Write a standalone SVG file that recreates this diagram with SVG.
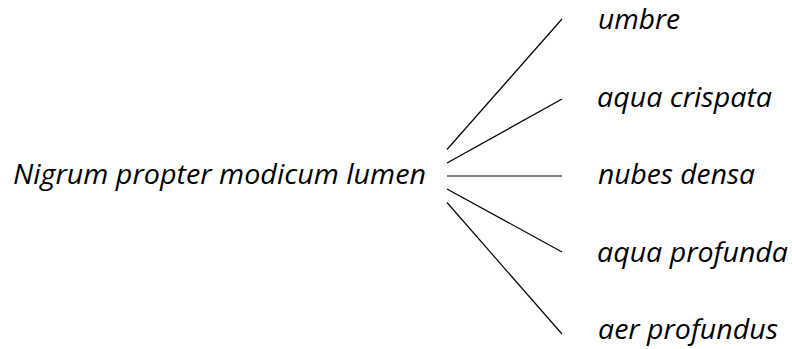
<svg xmlns="http://www.w3.org/2000/svg" width="792" height="349" viewBox="0 0 792 349">
  <style>
    .lbl { font-family: "Open Sans", "Noto Sans", "Liberation Sans", sans-serif; font-style: italic; font-size: 28px; fill: #000; }
    .conn line { stroke: #000; stroke-width: 1.2; fill: none; }
  </style>
  <rect width="792" height="349" fill="#fff"/>
  <g id="connectors" class="conn">
    <line x1="447" y1="149.5" x2="562" y2="19"/>
    <line x1="447" y1="163" x2="562" y2="99"/>
    <line x1="447" y1="176" x2="562" y2="176"/>
    <line x1="447" y1="189" x2="562" y2="252"/>
    <line x1="447" y1="202.5" x2="562" y2="334"/>
  </g>
  <g id="root">
    <text class="lbl" x="13" y="184" textLength="413" lengthAdjust="spacingAndGlyphs">Nigrum propter modicum lumen</text>
  </g>
  <g id="n1">
    <text class="lbl" x="598" y="29" textLength="82" lengthAdjust="spacingAndGlyphs">umbre</text>
  </g>
  <g id="n2">
    <text class="lbl" x="597" y="106.5" textLength="175" lengthAdjust="spacingAndGlyphs">aqua crispata</text>
  </g>
  <g id="n3">
    <text class="lbl" x="598" y="184" textLength="157" lengthAdjust="spacingAndGlyphs">nubes densa</text>
  </g>
  <g id="n4">
    <text class="lbl" x="597" y="261.5" textLength="191" lengthAdjust="spacingAndGlyphs">aqua profunda</text>
  </g>
  <g id="n5">
    <text class="lbl" x="598" y="339" textLength="180" lengthAdjust="spacingAndGlyphs">aer profundus</text>
  </g>
</svg>
